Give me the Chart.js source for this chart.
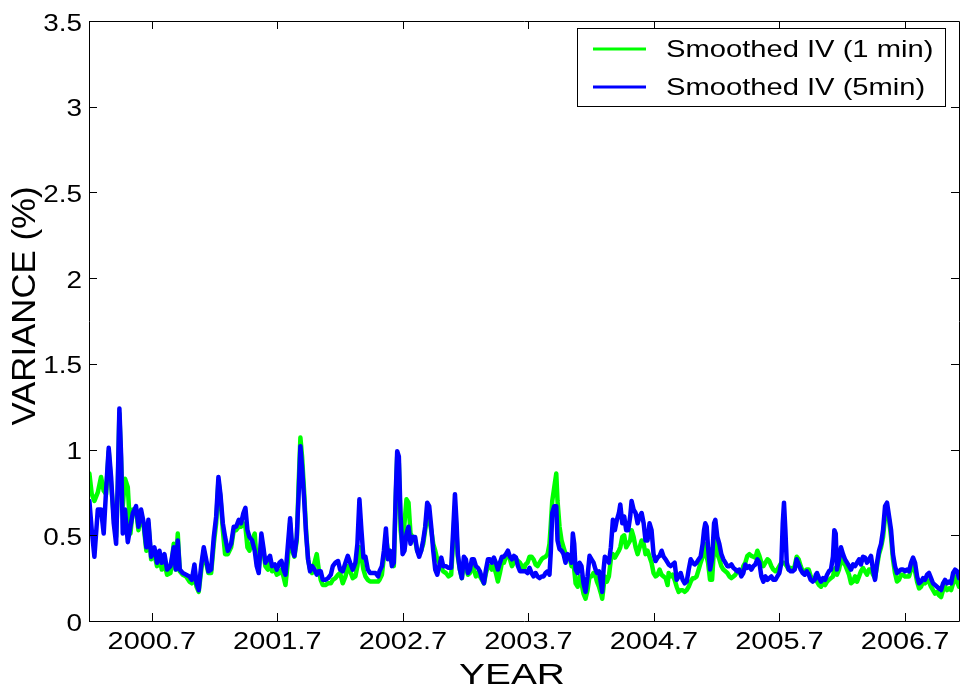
<!DOCTYPE html>
<html>
<head>
<meta charset="utf-8">
<script src="https://cdn.jsdelivr.net/npm/chart.js"></script>
<style>
  html, body { margin: 0; padding: 0; background: #fff; }
  canvas { display: block; }
</style>
</head>
<body>
<canvas id="ivChart" width="960" height="691"></canvas>
<script>
// sample dates (fractional years)
const years = [
  2000.203, 2000.222, 2000.243, 2000.270, 2000.296, 2000.317, 2000.336, 2000.357, 2000.376, 2000.397,
  2000.416, 2000.429, 2000.442, 2000.456, 2000.469, 2000.487, 2000.509, 2000.530, 2000.549, 2000.575,
  2000.594, 2000.615, 2000.636, 2000.657, 2000.673, 2000.695, 2000.721, 2000.742, 2000.761, 2000.780,
  2000.801, 2000.822, 2000.849, 2000.875, 2000.891, 2000.907, 2000.923, 2000.947, 2000.974, 2001.000,
  2001.019, 2001.040, 2001.056, 2001.074, 2001.093, 2001.114, 2001.133, 2001.151, 2001.173, 2001.194,
  2001.213, 2001.231, 2001.247, 2001.266, 2001.284, 2001.306, 2001.332, 2001.353,
  2001.372, 2001.393, 2001.411, 2001.430, 2001.446, 2001.462, 2001.478, 2001.499, 2001.520, 2001.536,
  2001.552, 2001.573, 2001.589, 2001.605, 2001.624, 2001.642, 2001.658, 2001.680, 2001.696, 2001.717,
  2001.733, 2001.749, 2001.765, 2001.783, 2001.802, 2001.818, 2001.836, 2001.855, 2001.871, 2001.884,
  2001.897, 2001.913, 2001.929, 2001.945, 2001.961, 2001.977, 2001.996, 2002.014, 2002.030, 2002.046,
  2002.062, 2002.083, 2002.105, 2002.126, 2002.142, 2002.163, 2002.184, 2002.200, 2002.221, 2002.243,
  2002.261, 2002.280, 2002.301, 2002.322, 2002.338, 2002.354, 2002.370, 2002.386, 2002.402, 2002.421,
  2002.439, 2002.461, 2002.482, 2002.503,
  2002.514, 2002.533, 2002.549, 2002.565, 2002.581, 2002.597, 2002.613, 2002.628, 2002.644, 2002.655,
  2002.668, 2002.682, 2002.698, 2002.713, 2002.729, 2002.745, 2002.761, 2002.777, 2002.798, 2002.814,
  2002.830, 2002.846, 2002.862, 2002.878, 2002.894, 2002.910, 2002.926, 2002.942, 2002.958, 2002.974,
  2002.990, 2003.006, 2003.022, 2003.043, 2003.064, 2003.085, 2003.101, 2003.115, 2003.128, 2003.138,
  2003.154, 2003.170, 2003.186, 2003.202, 2003.218, 2003.234, 2003.250, 2003.266, 2003.282, 2003.298,
  2003.314, 2003.330, 2003.346, 2003.362, 2003.378, 2003.393, 2003.409, 2003.425, 2003.441, 2003.457,
  2003.473, 2003.489, 2003.505, 2003.521, 2003.537, 2003.553, 2003.569, 2003.585, 2003.601, 2003.617,
  2003.633, 2003.648, 2003.664,
  2003.677, 2003.693, 2003.709, 2003.725, 2003.741, 2003.757, 2003.773, 2003.789, 2003.805, 2003.821,
  2003.837, 2003.853, 2003.868, 2003.879, 2003.890, 2003.906, 2003.922, 2003.932, 2003.948, 2003.964,
  2003.980, 2003.996, 2004.012, 2004.028, 2004.044, 2004.054, 2004.065, 2004.076, 2004.092, 2004.108,
  2004.123, 2004.139, 2004.155, 2004.171, 2004.187, 2004.203, 2004.219, 2004.235, 2004.246, 2004.262,
  2004.278, 2004.288, 2004.299, 2004.309, 2004.325, 2004.341, 2004.357, 2004.373, 2004.389, 2004.405,
  2004.421, 2004.432, 2004.448, 2004.463, 2004.479, 2004.495, 2004.511, 2004.522, 2004.538, 2004.554,
  2004.570, 2004.586, 2004.602, 2004.618, 2004.633, 2004.649, 2004.665, 2004.681, 2004.697, 2004.713,
  2004.729, 2004.745, 2004.761, 2004.777, 2004.793, 2004.809,
  2004.817, 2004.833, 2004.849, 2004.865, 2004.881, 2004.897, 2004.913, 2004.929, 2004.945, 2004.961,
  2004.977, 2004.993, 2005.009, 2005.024, 2005.040, 2005.056, 2005.072, 2005.088, 2005.099, 2005.109,
  2005.120, 2005.131, 2005.147, 2005.163, 2005.179, 2005.189, 2005.205, 2005.221, 2005.237, 2005.253,
  2005.269, 2005.285, 2005.301, 2005.317, 2005.333, 2005.349, 2005.364, 2005.380, 2005.396, 2005.412,
  2005.428, 2005.444, 2005.460, 2005.476, 2005.492, 2005.508, 2005.524, 2005.540, 2005.556, 2005.572,
  2005.588, 2005.604, 2005.619, 2005.635, 2005.651, 2005.667, 2005.683, 2005.699, 2005.715, 2005.726,
  2005.736, 2005.747, 2005.758, 2005.773, 2005.789, 2005.805, 2005.821, 2005.837, 2005.853, 2005.869,
  2005.885, 2005.901, 2005.917, 2005.933, 2005.949, 2005.965, 2005.981,
  2005.990, 2005.999, 2006.015, 2006.031, 2006.047, 2006.063, 2006.079, 2006.094, 2006.110, 2006.126,
  2006.137, 2006.148, 2006.158, 2006.174, 2006.190, 2006.206, 2006.222, 2006.238, 2006.254, 2006.270,
  2006.286, 2006.302, 2006.318, 2006.334, 2006.349, 2006.365, 2006.381, 2006.397, 2006.413, 2006.429,
  2006.445, 2006.461, 2006.477, 2006.493, 2006.509, 2006.525, 2006.541, 2006.557, 2006.573, 2006.589,
  2006.604, 2006.620, 2006.636, 2006.652, 2006.668, 2006.684, 2006.700, 2006.716, 2006.732, 2006.748,
  2006.764, 2006.780, 2006.796, 2006.812, 2006.828, 2006.844, 2006.859, 2006.875, 2006.891, 2006.907,
  2006.923, 2006.939, 2006.955, 2006.971, 2006.987, 2007.003, 2007.019, 2007.035, 2007.051, 2007.067,
  2007.083, 2007.099, 2007.114, 2007.130
];

// smoothed IV from 1 minute returns
const iv1min = [
  0.86, 0.74, 0.70, 0.75, 0.84, 0.76, 0.74, 0.99, 0.80, 0.61,
  0.49, 0.76, 1.21, 0.92, 0.67, 0.83, 0.78, 0.51, 0.65, 0.65,
  0.53, 0.63, 0.55, 0.41, 0.57, 0.36, 0.39, 0.32, 0.375, 0.30,
  0.34, 0.27, 0.28, 0.45, 0.30, 0.51, 0.29, 0.27, 0.26, 0.23,
  0.22, 0.28, 0.20, 0.17, 0.29, 0.41, 0.34, 0.28, 0.28, 0.45,
  0.57, 0.82, 0.72, 0.53, 0.39, 0.39, 0.43, 0.53,
  0.53, 0.55, 0.55, 0.57, 0.55, 0.43, 0.41, 0.47, 0.51, 0.34,
  0.30, 0.47, 0.41, 0.32, 0.30, 0.34, 0.29, 0.30, 0.27, 0.28,
  0.30, 0.26, 0.21, 0.34, 0.57, 0.41, 0.375, 0.47, 0.82, 1.07,
  0.96, 0.76, 0.53, 0.36, 0.30, 0.28, 0.34, 0.39, 0.30, 0.24,
  0.21, 0.21, 0.22, 0.22, 0.24, 0.25, 0.27, 0.28, 0.22, 0.26,
  0.32, 0.29, 0.25, 0.26, 0.32, 0.43, 0.375, 0.30, 0.26, 0.24,
  0.23, 0.23, 0.23, 0.23,
  0.24, 0.27, 0.375, 0.49, 0.41, 0.41, 0.34, 0.32, 0.72, 0.96,
  0.92, 0.53, 0.43, 0.57, 0.71, 0.69, 0.51, 0.49, 0.47, 0.41,
  0.39, 0.41, 0.45, 0.53, 0.63, 0.59, 0.53, 0.45, 0.41, 0.36,
  0.34, 0.31, 0.29, 0.28, 0.26, 0.27, 0.47, 0.67, 0.51, 0.375,
  0.30, 0.25, 0.34, 0.32, 0.27, 0.28, 0.32, 0.30, 0.26, 0.28,
  0.26, 0.24, 0.22, 0.28, 0.32, 0.32, 0.30, 0.32, 0.28, 0.23,
  0.28, 0.34, 0.34, 0.375, 0.39, 0.36, 0.32, 0.34, 0.36, 0.35,
  0.34, 0.32, 0.30,
  0.33, 0.34, 0.375, 0.375, 0.36, 0.33, 0.32, 0.34, 0.36, 0.37,
  0.375, 0.39, 0.45, 0.57, 0.70, 0.78, 0.86, 0.70, 0.55, 0.47,
  0.43, 0.39, 0.375, 0.37, 0.32, 0.375, 0.30, 0.22, 0.20, 0.26,
  0.22, 0.16, 0.13, 0.18, 0.26, 0.26, 0.28, 0.26, 0.23, 0.20,
  0.16, 0.13, 0.20, 0.26, 0.23, 0.26, 0.36, 0.39, 0.37, 0.39,
  0.41, 0.43, 0.49, 0.50, 0.43, 0.45, 0.47, 0.53, 0.49, 0.43,
  0.39, 0.43, 0.47, 0.45, 0.39, 0.41, 0.375, 0.34, 0.28, 0.26,
  0.27, 0.30, 0.27, 0.26, 0.25, 0.21,
  0.28, 0.26, 0.27, 0.24, 0.20, 0.17, 0.18, 0.18, 0.17, 0.18,
  0.20, 0.23, 0.25, 0.25, 0.26, 0.30, 0.34, 0.375, 0.41, 0.45,
  0.375, 0.34, 0.24, 0.24, 0.43, 0.49, 0.39, 0.36, 0.32, 0.30,
  0.29, 0.28, 0.26, 0.25, 0.26, 0.27, 0.29, 0.29, 0.27, 0.32,
  0.34, 0.38, 0.39, 0.38, 0.375, 0.37, 0.41, 0.38, 0.34, 0.32,
  0.34, 0.36, 0.35, 0.32, 0.30, 0.29, 0.30, 0.32, 0.34, 0.34,
  0.34, 0.33, 0.32, 0.30, 0.31, 0.30, 0.32, 0.375, 0.36, 0.32,
  0.29, 0.29, 0.30, 0.30, 0.26, 0.25, 0.25,
  0.24, 0.23, 0.21, 0.20, 0.22, 0.21, 0.23, 0.24, 0.25, 0.26,
  0.30, 0.31, 0.27, 0.30, 0.36, 0.34, 0.33, 0.30, 0.27, 0.22,
  0.23, 0.26, 0.23, 0.26, 0.29, 0.31, 0.29, 0.27, 0.30, 0.30,
  0.27, 0.25, 0.32, 0.39, 0.43, 0.49, 0.61, 0.65, 0.59, 0.49,
  0.36, 0.28, 0.23, 0.24, 0.27, 0.27, 0.26, 0.26, 0.26, 0.30,
  0.32, 0.29, 0.23, 0.19, 0.20, 0.23, 0.22, 0.24, 0.23, 0.20,
  0.18, 0.16, 0.17, 0.15, 0.14, 0.18, 0.20, 0.18, 0.19, 0.18,
  0.22, 0.26, 0.23, 0.20
];

// smoothed IV from 5 minute returns
const iv5min = [
  0.70, 0.53, 0.375, 0.65, 0.65, 0.51, 0.76, 1.01, 0.84, 0.57,
  0.45, 0.80, 1.24, 0.96, 0.51, 0.65, 0.46, 0.55, 0.63, 0.67,
  0.55, 0.65, 0.57, 0.43, 0.59, 0.375, 0.43, 0.34, 0.41, 0.34,
  0.39, 0.30, 0.32, 0.43, 0.30, 0.47, 0.30, 0.28, 0.27, 0.26,
  0.24, 0.33, 0.22, 0.18, 0.32, 0.43, 0.36, 0.29, 0.30, 0.49,
  0.61, 0.84, 0.74, 0.57, 0.49, 0.41, 0.45, 0.55,
  0.55, 0.59, 0.57, 0.63, 0.66, 0.53, 0.49, 0.47, 0.41, 0.32,
  0.28, 0.51, 0.43, 0.34, 0.36, 0.38, 0.32, 0.33, 0.30, 0.34,
  0.35, 0.30, 0.27, 0.43, 0.60, 0.43, 0.38, 0.49, 0.76, 1.02,
  0.90, 0.72, 0.51, 0.36, 0.29, 0.32, 0.30, 0.27, 0.29, 0.29,
  0.24, 0.24, 0.25, 0.27, 0.32, 0.34, 0.35, 0.30, 0.29, 0.34,
  0.38, 0.34, 0.30, 0.34, 0.45, 0.71, 0.53, 0.37, 0.375, 0.30,
  0.28, 0.28, 0.28, 0.26,
  0.29, 0.32, 0.41, 0.54, 0.36, 0.41, 0.32, 0.34, 0.76, 0.99,
  0.96, 0.61, 0.39, 0.41, 0.51, 0.55, 0.45, 0.49, 0.49, 0.41,
  0.375, 0.41, 0.47, 0.55, 0.69, 0.67, 0.55, 0.41, 0.30, 0.27,
  0.32, 0.37, 0.32, 0.32, 0.31, 0.31, 0.53, 0.74, 0.57, 0.39,
  0.30, 0.25, 0.375, 0.36, 0.28, 0.30, 0.36, 0.36, 0.32, 0.31,
  0.29, 0.25, 0.22, 0.30, 0.36, 0.36, 0.34, 0.37, 0.34, 0.30,
  0.34, 0.375, 0.375, 0.39, 0.41, 0.375, 0.36, 0.38, 0.37, 0.32,
  0.29, 0.29, 0.29,
  0.29, 0.28, 0.31, 0.28, 0.26, 0.28, 0.26, 0.25, 0.26, 0.26,
  0.28, 0.29, 0.27, 0.41, 0.63, 0.67, 0.67, 0.47, 0.42, 0.41,
  0.39, 0.34, 0.39, 0.375, 0.34, 0.51, 0.45, 0.30, 0.28, 0.34,
  0.32, 0.22, 0.17, 0.26, 0.38, 0.36, 0.34, 0.30, 0.28, 0.29,
  0.22, 0.17, 0.30, 0.375, 0.36, 0.34, 0.43, 0.59, 0.53, 0.59,
  0.63, 0.68, 0.57, 0.61, 0.53, 0.53, 0.61, 0.70, 0.65, 0.63,
  0.57, 0.61, 0.63, 0.57, 0.47, 0.47, 0.57, 0.53, 0.39, 0.35,
  0.37, 0.38, 0.41, 0.375, 0.36, 0.34,
  0.33, 0.32, 0.33, 0.34, 0.24, 0.26, 0.28, 0.24, 0.22, 0.23,
  0.30, 0.36, 0.34, 0.33, 0.34, 0.36, 0.375, 0.45, 0.53, 0.57,
  0.55, 0.43, 0.30, 0.36, 0.57, 0.59, 0.49, 0.45, 0.39, 0.36,
  0.34, 0.32, 0.32, 0.33, 0.31, 0.30, 0.29, 0.30, 0.26, 0.28,
  0.33, 0.31, 0.32, 0.30, 0.32, 0.33, 0.36, 0.34, 0.26, 0.23,
  0.26, 0.24, 0.25, 0.26, 0.24, 0.24, 0.26, 0.28, 0.34, 0.57,
  0.69, 0.53, 0.34, 0.30, 0.29, 0.29, 0.30, 0.36, 0.33, 0.30,
  0.28, 0.27, 0.29, 0.27, 0.24, 0.23, 0.24,
  0.27, 0.28, 0.25, 0.23, 0.25, 0.24, 0.27, 0.29, 0.30, 0.375,
  0.53, 0.51, 0.30, 0.36, 0.43, 0.39, 0.36, 0.34, 0.32, 0.30,
  0.33, 0.32, 0.34, 0.36, 0.33, 0.375, 0.37, 0.34, 0.36, 0.38,
  0.30, 0.24, 0.34, 0.41, 0.45, 0.53, 0.67, 0.69, 0.61, 0.53,
  0.39, 0.32, 0.28, 0.29, 0.30, 0.30, 0.29, 0.30, 0.29, 0.34,
  0.37, 0.34, 0.26, 0.22, 0.23, 0.25, 0.24, 0.27, 0.28, 0.25,
  0.22, 0.21, 0.20, 0.19, 0.18, 0.22, 0.24, 0.22, 0.23, 0.22,
  0.28, 0.30, 0.29, 0.25
];

const xTickYears = [2000.7, 2001.7, 2002.7, 2003.7, 2004.7, 2005.7, 2006.7];
const yTickValues = [0, 0.5, 1, 1.5, 2, 2.5, 3, 3.5];
const seriesNames = ['Smoothed IV (1 min)', 'Smoothed IV (5min)'];

// matlab export looks stretched, so text gets drawn with a scale
function wideText(ctx, str, x, y, opts) {
  const o = Object.assign({ size: 24.5, sx: 1.14, sy: 1, align: 'left', rot: 0 }, opts);
  ctx.save();
  ctx.translate(x, y);
  if (o.rot) ctx.rotate(o.rot);
  ctx.scale(o.sx, o.sy);
  ctx.font = o.size + 'px "Liberation Sans", Arial, sans-serif';
  ctx.fillStyle = '#000';
  ctx.textAlign = o.align;
  ctx.textBaseline = 'alphabetic';
  ctx.fillText(str, 0, 0);
  ctx.restore();
}

// box, inward ticks, labels and legend like a matlab figure
const matlabAxes = {
  id: 'matlabAxes',
  afterDraw(chart) {
    const ctx = chart.ctx;
    const a = chart.chartArea;
    const xs = chart.scales.x;
    const ys = chart.scales.y;
    ctx.save();
    ctx.strokeStyle = '#000';
    ctx.lineWidth = 1;
    ctx.beginPath();
    ctx.rect(a.left + 0.5, a.top + 0.5, a.right - a.left, a.bottom - a.top);
    xs.ticks.forEach(t => {
      const px = Math.round(xs.getPixelForValue(t.value)) + 0.5;
      ctx.moveTo(px, a.bottom); ctx.lineTo(px, a.bottom - 8);
      ctx.moveTo(px, a.top); ctx.lineTo(px, a.top + 8);
    });
    ys.ticks.forEach(t => {
      const py = Math.round(ys.getPixelForValue(t.value)) + 0.5;
      ctx.moveTo(a.left, py); ctx.lineTo(a.left + 8, py);
      ctx.moveTo(a.right, py); ctx.lineTo(a.right - 8, py);
    });
    ctx.stroke();

    xs.ticks.forEach(t => {
      wideText(ctx, t.value.toFixed(1), xs.getPixelForValue(t.value), a.bottom + 28, { align: 'center', sx: 1.18 });
    });
    ys.ticks.forEach(t => {
      wideText(ctx, String(t.value), a.left - 7, ys.getPixelForValue(t.value) + 9.5, { align: 'right' });
    });
    wideText(ctx, 'YEAR', 512, 684, { align: 'center', size: 29, sx: 1.34 });
    wideText(ctx, 'VARIANCE (%)', 35, 306, { align: 'center', size: 29, sx: 1.2, sy: 1.12, rot: -Math.PI / 2 });

    // legend
    const lx = 577, ly = 28, lw = 368, lh = 78;
    ctx.fillStyle = '#fff';
    ctx.fillRect(lx, ly, lw, lh);
    ctx.strokeRect(lx + 0.5, ly + 0.5, lw, lh);
    chart.data.datasets.forEach((ds, i) => {
      const rowY = 49 + i * 38;
      ctx.strokeStyle = ds.borderColor;
      ctx.lineWidth = 3;
      ctx.beginPath();
      ctx.moveTo(593, rowY);
      ctx.lineTo(646, rowY);
      ctx.stroke();
      wideText(ctx, ds.label, 666, rowY + 8, { sx: 1.19 });
    });
    ctx.restore();
  }
};

new Chart(document.getElementById('ivChart'), {
  type: 'line',
  data: {
    datasets: [
      {
        label: seriesNames[0],
        data: years.map((t, i) => ({ x: t, y: iv1min[i] })),
        borderColor: '#00ff00',
        borderWidth: 4.5,
        pointRadius: 0,
        borderJoinStyle: 'round',
        borderCapStyle: 'round',
        order: 2
      },
      {
        label: seriesNames[1],
        data: years.map((t, i) => ({ x: t, y: iv5min[i] })),
        borderColor: '#0000ff',
        borderWidth: 4.5,
        pointRadius: 0,
        borderJoinStyle: 'round',
        borderCapStyle: 'round',
        order: 1
      }
    ]
  },
  options: {
    responsive: false,
    animation: false,
    devicePixelRatio: 1,
    layout: { padding: { top: 21, right: 1, left: 0, bottom: 0 } },
    plugins: {
      legend: { display: false },
      tooltip: { enabled: false }
    },
    scales: {
      x: {
        type: 'linear',
        min: 2000.2,
        max: 2007.13,
        grid: { display: false, drawTicks: false },
        border: { display: false },
        ticks: { display: false },
        afterBuildTicks: s => { s.ticks = xTickYears.map(v => ({ value: v })); },
        afterFit: s => { s.height = 70; }
      },
      y: {
        type: 'linear',
        min: 0,
        max: 3.5,
        grid: { display: false, drawTicks: false },
        border: { display: false },
        ticks: { display: false },
        afterBuildTicks: s => { s.ticks = yTickValues.map(v => ({ value: v })); },
        afterFit: s => { s.width = 89; }
      }
    }
  },
  plugins: [matlabAxes]
});
</script>
</body>
</html>
